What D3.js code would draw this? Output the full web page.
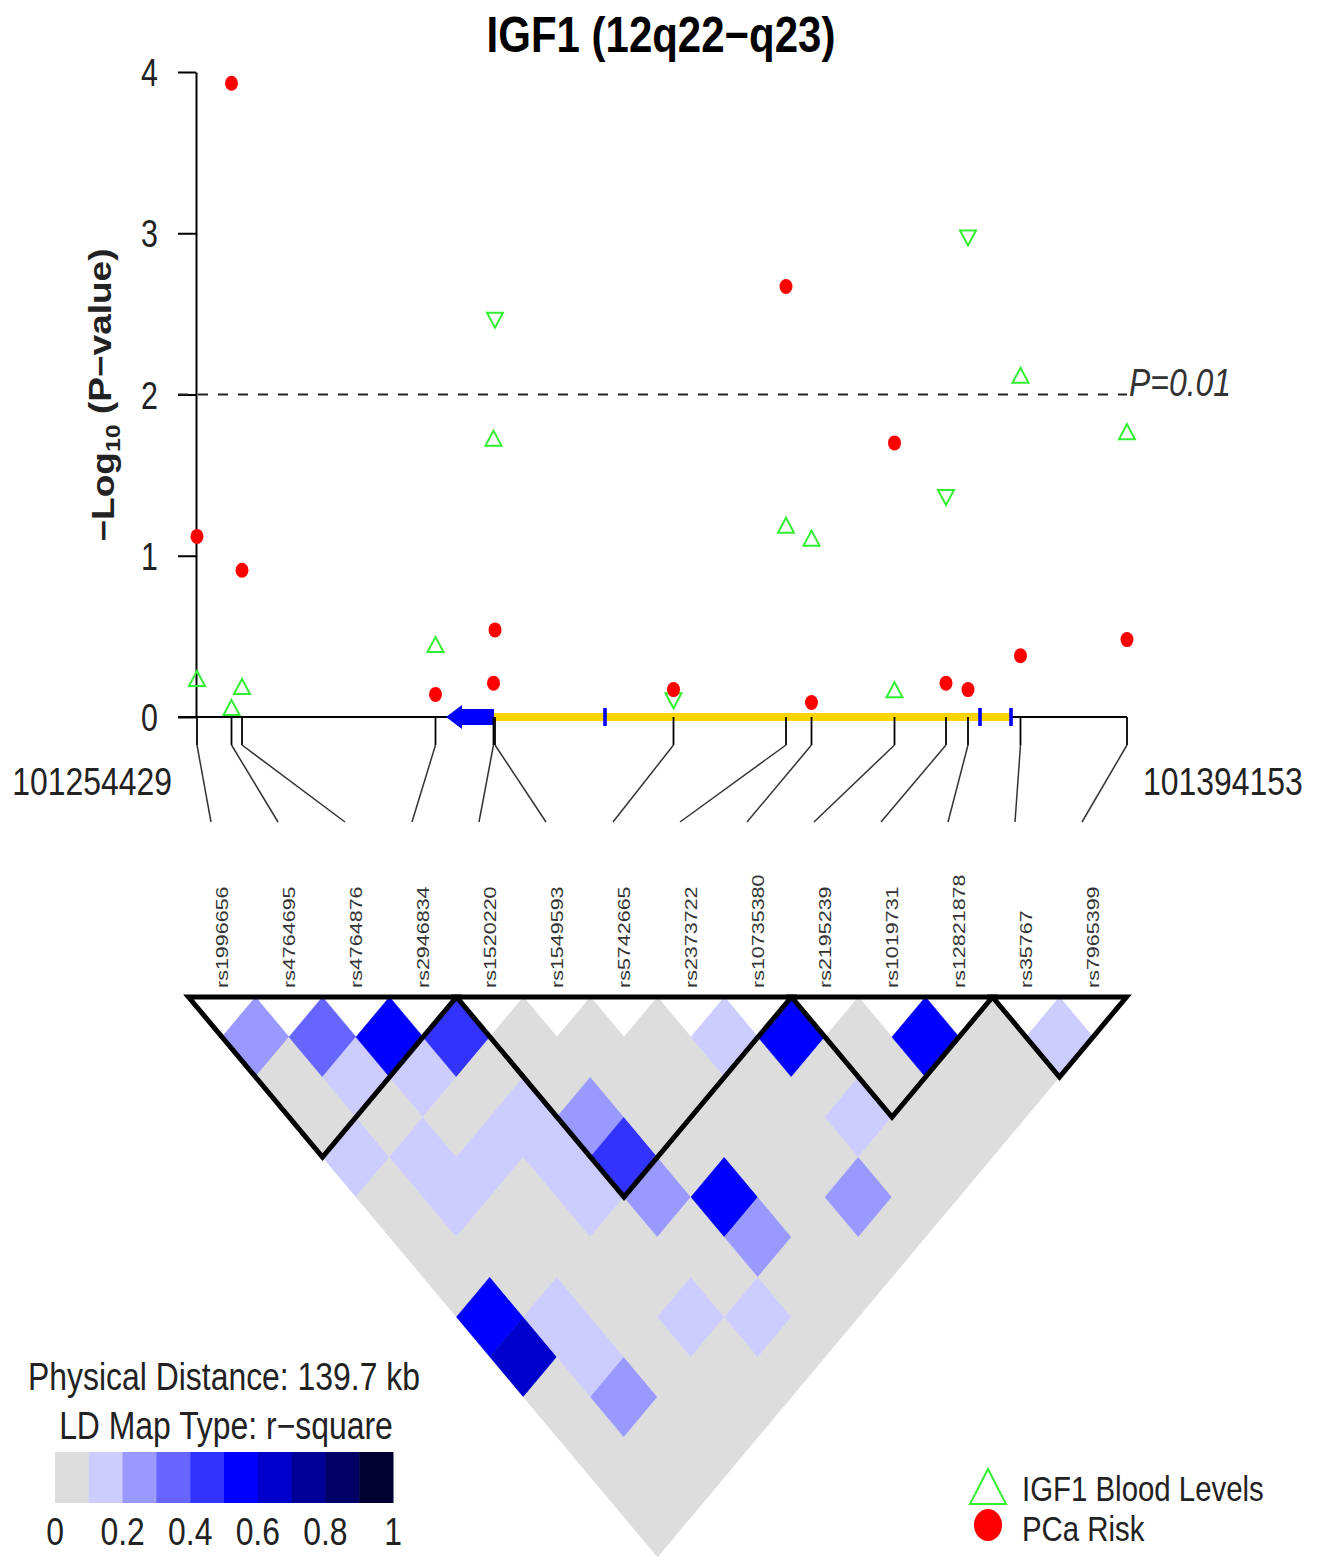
<!DOCTYPE html>
<html>
<head>
<meta charset="utf-8">
<script src="https://cdn.jsdelivr.net/npm/d3@7"></script>
<style>
  body { margin: 0; background: #fff; }
  text { font-family: Arial, "Liberation Sans", sans-serif; }
</style>
</head>
<body>
<div id="chart"></div>
<script>
// ---- data ----
const snps = ["rs1996656", "rs4764695", "rs4764876", "rs2946834", "rs1520220", "rs1549593", "rs5742665",
    "rs2373722", "rs10735380", "rs2195239", "rs1019731", "rs12821878", "rs35767", "rs7965399"];
// physical position (bp)
const snpPos = [101254429, 101259612, 101261190, 101290261, 101298975, 101299201, 101326019,
    101342921, 101346752, 101359222, 101366959, 101370265, 101378152, 101394153];
// -log10(p), prostate cancer risk
const pcaRisk = [1.12, 3.93, 0.91, 0.14, 0.21, 0.54, 0.17, 2.67, 0.09, 1.70, 0.21, 0.17, 0.38, 0.48];
// -log10(p), IGF1 blood levels and direction of effect
const igf1Levels = [0.23, 0.05, 0.18, 0.44, 1.72, 2.47, 0.11, 1.18, 1.10, 0.16, 1.37, 2.98, 2.11, 1.76];
const igf1Dir = ["up", "up", "up", "up", "up", "down", "down", "up", "up", "up", "down", "down", "up", "up"];

const yTicks = [0, 1, 2, 3, 4];
const regionStart = 101254429;
const regionEnd = 101394153;

// IGF1 gene drawing (bp)
const geneBody = [101299050, 101376875];
const geneArrow = [101291839, 101299050];
const geneExons = [101315727, 101372067, 101376725];

// haplotype blocks (snp index ranges)
const ldBlocks = [[0, 3], [4, 8], [9, 11], [12, 13]];
// r-square, row i = snp i against snps i+1 .. 13
const ldRows = [
    [0.25, 0.05, 0.05, 0.15, 0.05, 0.05, 0.05, 0.55, 0.65, 0.05, 0.05, 0.05, 0.05],
    [0.35, 0.15, 0.05, 0.15, 0.15, 0.05, 0.05, 0.15, 0.15, 0.25, 0.05, 0.05],
    [0.55, 0.15, 0.05, 0.15, 0.05, 0.05, 0.05, 0.05, 0.05, 0.05, 0.05],
    [0.45, 0.05, 0.15, 0.15, 0.15, 0.05, 0.05, 0.15, 0.05, 0.05],
    [0.05, 0.05, 0.25, 0.45, 0.25, 0.05, 0.05, 0.15, 0.05],
    [0.05, 0.05, 0.05, 0.05, 0.55, 0.25, 0.05, 0.05],
    [0.05, 0.05, 0.05, 0.05, 0.05, 0.05, 0.05],
    [0.15, 0.05, 0.05, 0.05, 0.25, 0.05],
    [0.55, 0.05, 0.15, 0.05, 0.05],
    [0.05, 0.05, 0.05, 0.05],
    [0.55, 0.05, 0.05],
    [0.05, 0.05],
    [0.15]
];
const ldBreaks = [0.1, 0.2, 0.3, 0.4, 0.5, 0.6, 0.7, 0.8, 0.9];
const ldColors = ["#DDDDDD", "#CCCCFF", "#9999FF", "#6666FF", "#3333FF", "#0000FF", "#0000CC", "#000099", "#000066", "#000033"];
const ldLegendTicks = [0, 0.2, 0.4, 0.6, 0.8, 1];

// ---- drawing ----
const W = 1317, H = 1560;
const NARROW = 0.84;

const svg = d3.select("#chart").append("svg")
    .attr("width", W)
    .attr("height", H);

function ntext(g, x, y, str, size, anchor) {
    return g.append("text")
        .attr("transform", `translate(${x},${y}) scale(${NARROW},1)`)
        .attr("text-anchor", anchor || "start")
        .style("font-size", size + "px")
        .style("fill", "#111")
        .text(str);
}

const x = d3.scaleLinear().domain([regionStart, regionEnd]).range([197, 1127]);
const y = d3.scaleLinear().domain([0, 4]).range([717, 72]);

// title
ntext(svg, 661, 52, "IGF1 (12q22\u2212q23)", 50, "middle")
    .style("font-weight", "bold").style("fill", "#000");

// y axis
const yAxis = svg.append("g")
    .attr("transform", "translate(196,0)")
    .call(d3.axisLeft(y).tickValues(yTicks).tickSize(18).tickSizeOuter(0).tickFormat(d3.format("d")));
yAxis.select(".domain").attr("stroke", "#000").attr("stroke-width", 2);
yAxis.selectAll(".tick line").attr("stroke", "#000").attr("stroke-width", 2);
yAxis.selectAll(".tick text")
    .attr("x", null)
    .attr("transform", "translate(-38,0) scale(0.8,1)")
    .attr("dy", "0.36em")
    .style("font-size", "38px")
    .style("font-family", "Arial, 'Liberation Sans', sans-serif")
    .style("fill", "#222");

// y label
const yl = svg.append("text")
    .attr("transform", `translate(114,395) rotate(-90) scale(1,${NARROW})`)
    .attr("text-anchor", "middle")
    .style("font-size", "37px")
    .style("font-weight", "bold")
    .style("fill", "#222");
yl.append("tspan").text("\u2212Log");
yl.append("tspan").text("10").style("font-size", "25px").attr("dy", "0.3em");
yl.append("tspan").text(" (P\u2212value)").attr("dy", "-0.3em");

// significance line
svg.append("line")
    .attr("x1", 178).attr("x2", x(regionEnd))
    .attr("y1", y(2)).attr("y2", y(2))
    .attr("stroke", "#222").attr("stroke-width", 2)
    .attr("stroke-dasharray", "10,10");
ntext(svg, 1129, y(2) + 1, "P=0.01", 38).style("font-style", "italic").style("fill", "#333");

// base line
svg.append("line")
    .attr("x1", 178).attr("x2", x(regionEnd))
    .attr("y1", y(0)).attr("y2", y(0))
    .attr("stroke", "#000").attr("stroke-width", 2);

// gene
svg.append("line")
    .attr("x1", x(geneBody[0])).attr("x2", x(geneBody[1]))
    .attr("y1", y(0)).attr("y2", y(0))
    .attr("stroke", "#FFD400").attr("stroke-width", 8);
const ax0 = x(geneArrow[0]), ax1 = x(geneArrow[1]), y0 = y(0);
svg.append("path")
    .attr("d", `M${ax0},${y0} L${ax0 + 16},${y0 - 12} L${ax0 + 16},${y0 - 8} L${ax1},${y0 - 8} L${ax1},${y0 + 8} L${ax0 + 16},${y0 + 8} L${ax0 + 16},${y0 + 12} Z`)
    .attr("fill", "#0000FF");
svg.selectAll(".exon").data(geneExons).enter().append("rect")
    .attr("class", "exon")
    .attr("x", d => x(d) - 1.8).attr("width", 3.6)
    .attr("y", y0 - 9).attr("height", 18)
    .attr("fill", "#0000FF");

// region labels
ntext(svg, 172, 795, "101254429", 38, "end").style("fill", "#222");
ntext(svg, 1143, 795, "101394153", 38, "start").style("fill", "#222");

// LD geometry
const ldX = d3.scaleLinear().domain([0, snps.length - 1]).range([222, 1093]);
const ldY = d3.scaleLinear().domain([0, snps.length - 1]).range([997, 997 + 40 * (snps.length - 1)]);
const hw = (ldX(1) - ldX(0)) / 2;
const hh = ldY(1) - ldY(0);

// connectors from map position to label
const conn = svg.append("g");
snps.forEach((s, i) => {
    const px = x(snpPos[i]);
    conn.append("line")
        .attr("x1", px).attr("x2", px).attr("y1", y(0)).attr("y2", 745)
        .attr("stroke", "#000").attr("stroke-width", 1.8);
    conn.append("line")
        .attr("x1", px).attr("y1", 745)
        .attr("x2", ldX(i) - 11).attr("y2", 822)
        .attr("stroke", "#333").attr("stroke-width", 1.5);
});

// SNP names
svg.selectAll(".snplab").data(snps).enter().append("text")
    .attr("class", "snplab")
    .attr("transform", (d, i) => `translate(${ldX(i)},988) rotate(-90) scale(1,0.8)`)
    .attr("dy", "0.36em")
    .style("font-size", "21.5px")
    .style("fill", "#333")
    .text(d => d);

// association points
const pts = svg.append("g");
pts.selectAll(".igf").data(igf1Levels).enter().append("path")
    .attr("class", "igf")
    .attr("transform", (d, i) => `translate(${x(snpPos[i])},${y(d)})`)
    .attr("d", (d, i) => igf1Dir[i] === "up" ? "M0,-9 L8,6 L-8,6 Z" : "M0,9 L8,-6 L-8,-6 Z")
    .attr("fill", "none")
    .attr("stroke", "#33EE33")
    .attr("stroke-width", 2);
pts.selectAll(".pca").data(pcaRisk).enter().append("ellipse")
    .attr("class", "pca")
    .attr("cx", (d, i) => x(snpPos[i]))
    .attr("cy", d => y(d))
    .attr("rx", 6.5).attr("ry", 7.5)
    .attr("fill", "#FF0000");

// LD heatmap
const ldColor = d3.scaleThreshold().domain(ldBreaks).range(ldColors);
const cells = [];
ldRows.forEach((row, i) => row.forEach((v, k) => cells.push({i: i, j: i + k + 1, r2: v})));
svg.append("g").selectAll("path").data(cells).enter().append("path")
    .attr("d", d => {
        const cx = ldX((d.i + d.j) / 2), cy = ldY(d.j - d.i);
        return `M${cx},${cy - hh} L${cx + hw},${cy} L${cx},${cy + hh} L${cx - hw},${cy} Z`;
    })
    .attr("fill", d => ldColor(d.r2))
    .attr("stroke", d => ldColor(d.r2))
    .attr("stroke-width", 0.6);

// block outlines
svg.append("g").selectAll("path").data(ldBlocks).enter().append("path")
    .attr("d", b => `M${ldX(b[0]) - hw},${ldY(0)} L${ldX(b[1]) + hw},${ldY(0)} L${ldX((b[0] + b[1]) / 2)},${ldY(b[1] - b[0] + 1)} Z`)
    .attr("fill", "none")
    .attr("stroke", "#000")
    .attr("stroke-width", 5)
    .attr("stroke-linejoin", "miter");

// LD legend
ntext(svg, 224, 1390, "Physical Distance: 139.7 kb", 38, "middle").style("fill", "#222");
ntext(svg, 226, 1439, "LD Map Type: r\u2212square", 38, "middle").style("fill", "#222");
const lx = d3.scaleLinear().domain([0, 1]).range([55, 393]);
svg.append("g").selectAll("rect").data(ldColors).enter().append("rect")
    .attr("x", (d, i) => lx(i / ldColors.length))
    .attr("width", lx(1 / ldColors.length) - lx(0) + 0.5)
    .attr("y", 1452).attr("height", 51)
    .attr("fill", d => d);
ldLegendTicks.forEach(t => {
    ntext(svg, lx(t), 1545, d3.format("~g")(t), 38, "middle").style("fill", "#222");
});

// point legend
svg.append("path")
    .attr("d", "M988,1469 L1006,1504 L970,1504 Z")
    .attr("fill", "none").attr("stroke", "#33EE33").attr("stroke-width", 2);
svg.append("ellipse")
    .attr("cx", 988).attr("cy", 1525).attr("rx", 14).attr("ry", 16)
    .attr("fill", "#FF0000");
ntext(svg, 1022, 1501, "IGF1 Blood Levels", 35).style("fill", "#222");
ntext(svg, 1022, 1541, "PCa Risk", 35).style("fill", "#222");
</script>
</body>
</html>
